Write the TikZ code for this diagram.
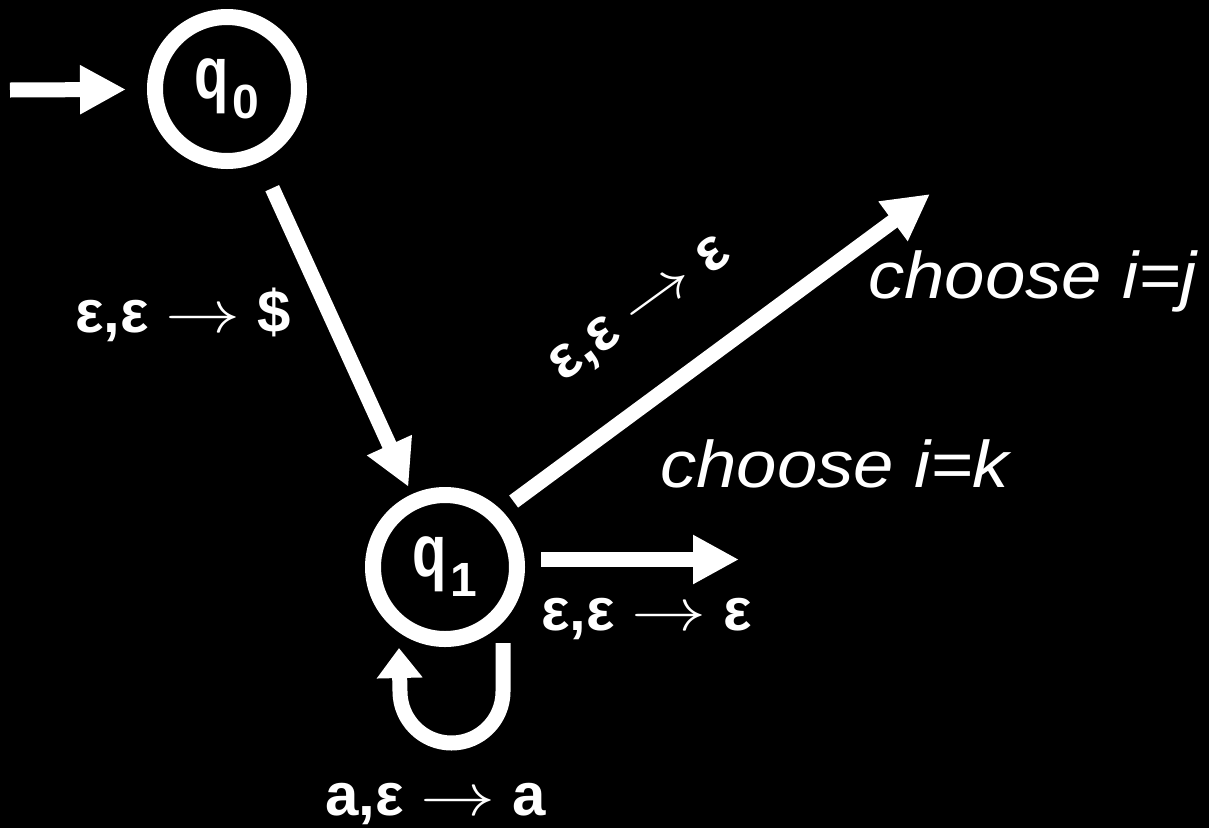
\RequirePackage{fix-cm}
\documentclass[tikz,border=0pt]{standalone}
\usepackage{fontspec}
\setmainfont{Liberation Sans}
\usetikzlibrary{arrows.meta,calc}
\newcommand\stname[1]{\scalebox{0.76}[1]{\fontsize{74}{74}\selectfont\bfseries q}\kern3pt\raisebox{-20pt}{\fontsize{48}{48}\selectfont\bfseries #1}}
\newcommand\arr{\scalebox{1.25}[1]{$\rightarrow$}}
\begin{document}
\begin{tikzpicture}[x=1pt,y=-1pt,
  stnode/.style={circle,draw=white,line width=16pt,minimum size=144pt,inner sep=0pt,text=white},
  conn/.style={draw=white,line width=15pt,-{Triangle[width=46pt,length=46pt]}},
  selfloop/.style={draw=white,line width=15pt,-{Triangle[width=44pt,length=30pt]}},
  lbl/.style={text=white,inner sep=0pt,font=\fontsize{60}{60}\selectfont\bfseries},
  ital/.style={text=white,inner sep=0pt,font=\fontsize{66}{66}\selectfont\itshape}]
\fill[black] (0,0) rectangle (1209,828);
\useasboundingbox (0,0) rectangle (1209,828);
\node[stnode] (q0) at (227,89) {\stname{0}};
\node[stnode] (q1) at (445,567) {\stname{1}};
\coordinate (init) at (10,90);
\coordinate (jend) at (930,194);
\coordinate (kend) at (739,559.5);
\draw[conn,shorten >=21pt] (init) -- (q0);
\draw[conn,shorten <=29pt,shorten >=8pt] (q0) -- (q1);
\draw[conn,shorten <=15pt] (q1.north east) -- (jend);
\draw[conn,shorten <=16pt] ([yshift=7.5pt]q1.east) -- (kend);
\draw[selfloop] ($(q1)+(58,76)$) -- ($(q1)+(58,124.5)$)
  .. controls ($(q1)+(58,152.9)$) and ($(q1)+(35,176)$) .. ($(q1)+(6.5,176)$)
  .. controls ($(q1)+(-22,176)$) and ($(q1)+(-45,152.9)$) .. ($(q1)+(-45,124.5)$)
  -- ($(q1)+(-46,81)$);
\node[lbl,anchor=base west] (l1) at (75,332) {ε,ε \arr{} \$};
\node[lbl,rotate=36] (l2) at (642,311) {ε,ε \arr{} ε};
\node[lbl,anchor=base west] (l3) at (541,630) {ε,ε \arr{} ε};
\node[lbl,anchor=base west] (l4) at (325,815) {a,ε \arr{} a};
\node[ital,anchor=base west] (cj) at (868,298) {\scalebox{1.1}[1]{choose i=j}};
\node[ital,anchor=base west] (ck) at (660,487) {\scalebox{1.1}[1]{choose i=k}};
\end{tikzpicture}
\end{document}
